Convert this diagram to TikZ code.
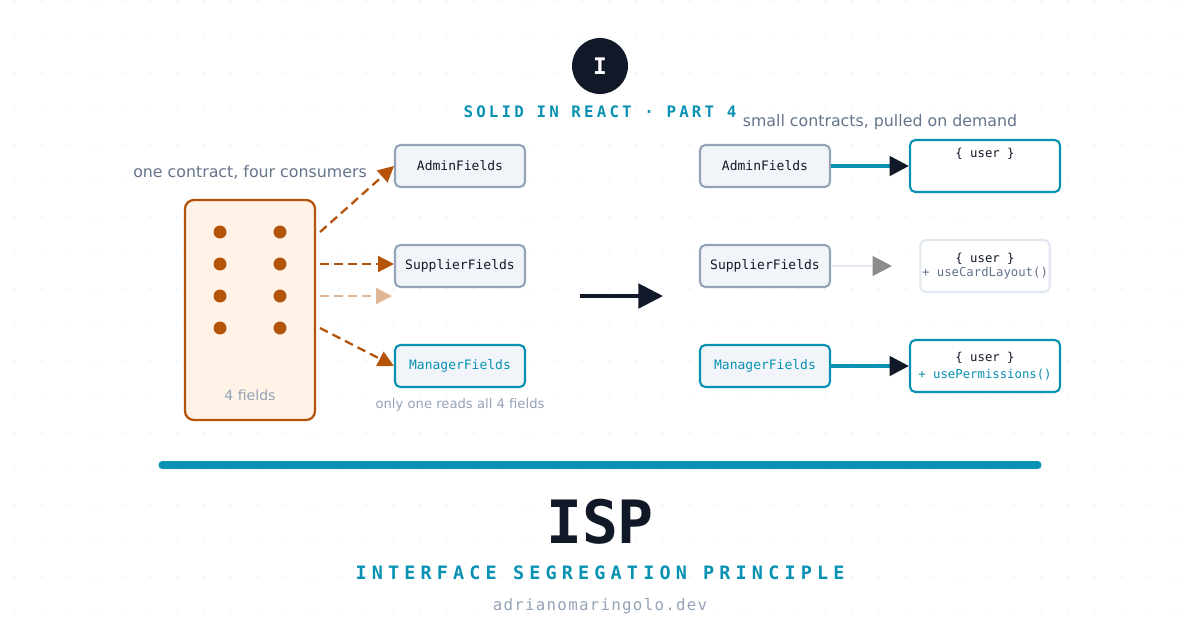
\documentclass[tikz,border=0pt]{standalone}
\usepackage{fontspec}
\setmainfont{DejaVu Sans}
\setmonofont{DejaVu Sans Mono}
\usetikzlibrary{positioning,calc,arrows.meta}
\definecolor{ink}{HTML}{111827}
\definecolor{teal}{HTML}{0891B2}
\definecolor{rust}{HTML}{B45309}
\definecolor{rustpale}{HTML}{E2B795}
\definecolor{slate}{HTML}{64748B}
\definecolor{mute}{HTML}{94A3B8}
\definecolor{boxfill}{HTML}{F1F5F9}
\definecolor{boxline}{HTML}{94A3B8}
\definecolor{warm}{HTML}{FEF3E6}
\definecolor{grid}{HTML}{E2E8F0}
\tikzset{
	comp/.style={draw=boxline, line width=1.2pt, fill=boxfill, rounded corners=3pt,
		minimum width=2.6cm, minimum height=0.84cm, font=\ttfamily\fontsize{7.4}{8}\selectfont, text=ink},
	compt/.style={comp, draw=teal, text=teal},
	hook/.style={draw=teal, line width=1.2pt, fill=white, rounded corners=3pt, inner sep=1pt,
		minimum width=3cm, minimum height=1.04cm, align=center, font=\ttfamily\fontsize{7}{9}\selectfont, text=ink},
	note/.style={font=\fontsize{9}{10}\selectfont, text=slate},
	dashed arrow/.style={->, >={Triangle[length=9pt,width=9pt]}, draw=rust, line width=1.3pt, dash pattern=on 5pt off 3pt},
}
\begin{document}
\begin{tikzpicture}[x=0.02cm, y=-0.02cm]
	\useasboundingbox (0,0) rectangle (1200,630);
	% dotted background
	\foreach \gx in {15,42,...,1200} {
		\foreach \gy in {1,37,...,630} {
			\fill[grid] (\gx,\gy) circle (0.9);
		}
	}

	% header
	\node[circle, fill=ink, minimum size=1.12cm, text=white, font=\ttfamily\bfseries\fontsize{13}{14}\selectfont] (badge) at (600,66) {I};
	\node[text=teal, font=\ttfamily\bfseries\fontsize{9}{10}\selectfont\addfontfeature{LetterSpace=20}] (series) at (600,112) {SOLID IN REACT · PART 4};

	% before: one fat contract
	\node[note] (fatnote) at (250,172) {one contract, four consumers};
	\node[draw=rust, line width=1.3pt, fill=warm, rounded corners=5pt, minimum width=2.6cm, minimum height=4.4cm] (fat) at (250,310) {};
	\foreach \fx in {220,280} {
		\foreach \fy in {232,264,296,328} {
			\fill[rust] (\fx,\fy) circle (6.5);
		}
	}
	\node[text=mute, font=\fontsize{8}{9}\selectfont] (fatlabel) at (250,395) {4 fields};
	\coordinate (f1) at (320,232);
	\coordinate (f2) at (320,264);
	\coordinate (f3) at (320,296);
	\coordinate (f4) at (320,328);
	\coordinate (ghost) at (392,296);

	\node[comp] (admin) at (460,166) {AdminFields};
	\node[comp] (supplier) at (460,266) {SupplierFields};
	\node[compt] (manager) at (460,366) {ManagerFields};
	\node[text=mute, font=\fontsize{7.5}{8}\selectfont] (onlyone) at (460,405) {only one reads all 4 fields};

	\draw [dashed arrow] (f1) to (admin.west);
	\draw [dashed arrow] (f2) to (supplier.west |- f2);
	\draw [dashed arrow, draw=rustpale] (f3) to (ghost);
	\draw [dashed arrow] (f4) to (manager.west);

	% transition
	\coordinate (tfrom) at (580,296);
	\coordinate (tto) at (663,296);
	\draw [->, >={Triangle[length=14pt,width=14pt]}, draw=ink, line width=1.8pt] (tfrom) to (tto);

	% after: small contracts
	\node[note] (smallnote) at (880,122) {small contracts, pulled on demand};
	\node[comp] (admin2) at (765,166) {AdminFields};
	\node[comp] (supplier2) at (765,266) {SupplierFields};
	\node[compt] (manager2) at (765,366) {ManagerFields};

	\node[hook] (useradmin) at (985,166) {\{ user \}\\[0.9em]\mbox{}};
	\node[hook, draw=grid, minimum width=2.4cm] (usersupplier) at (985,266) {\{ user \}\\[-0.2em]{\color{slate}+ useCardLayout()}};
	\node[hook] (usermanager) at (985,366) {\{ user \}\\[0.1em]{\color{teal}+ usePermissions()}};
	\coordinate (grayend) at (892,266);

	\draw [->, >={Triangle[length=11pt,width=11pt]}, draw=teal, line width=2pt, arrows={->[color=ink]}] (admin2) to (useradmin);
	\draw [->, >={Triangle[length=11pt,width=11pt]}, draw=grid, line width=1.6pt, arrows={->[color=gray!90]}] (supplier2) to (grayend);
	\draw [->, >={Triangle[length=11pt,width=11pt]}, draw=teal, line width=2pt, arrows={->[color=ink]}] (manager2) to (usermanager);

	% footer
	\coordinate (barl) at (162,465);
	\coordinate (barr) at (1038,465);
	\draw [teal, line width=4pt, line cap=round] (barl) -- (barr);
	\node[text=ink, font=\ttfamily\bfseries\fontsize{34}{36}\selectfont] (isp) at (600,522) {ISP};
	\node[text=teal, font=\ttfamily\bfseries\fontsize{10.5}{12}\selectfont\addfontfeature{LetterSpace=28}] (isptitle) at (600,573) {INTERFACE SEGREGATION PRINCIPLE};
	\node[text=mute, font=\ttfamily\fontsize{9}{10}\selectfont\addfontfeature{LetterSpace=8}] (site) at (600,606) {adrianomaringolo.dev};
\end{tikzpicture}
\end{document}
